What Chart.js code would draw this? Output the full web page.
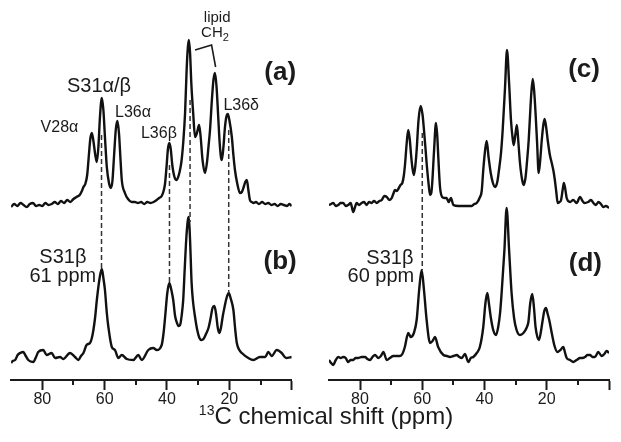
<!DOCTYPE html>
<html>
<head>
<meta charset="utf-8">
<script src="https://cdn.jsdelivr.net/npm/chart.js@4.4.1/dist/chart.umd.min.js"></script>
<style>
  body { margin: 0; background: #fff; }
  #wrap { position: relative; width: 621px; height: 442px; overflow: hidden; }
  #cl { position: absolute; left: 0; top: 0; }
  #cr { position: absolute; left: 318px; top: 0; }
  .xt {
    position: absolute; left: 0; width: 652px; top: 404px; text-align: center;
    font-family: "Liberation Sans", Arial, sans-serif; font-size: 24px; line-height: 24px; color: #1b1b1b;
  }
  .xt sup { font-size: 14px; vertical-align: 9px; line-height: 0; }
</style>
</head>
<body>
<div id="wrap">
  <canvas id="cl" width="310" height="442"></canvas>
  <canvas id="cr" width="303" height="442"></canvas>
  <div class="xt"><sup>13</sup>C chemical shift (ppm)</div>
</div>
<script>
// spectra: [ppm, intensity (a.u.)]
const specA = [[90,-2],[89,1],[88,-1],[87,2],[86,0],[85,-2],[84,1],[83,2],[82,-1],[81,0],[80,-1],[79,2],[78,0],[77,1],[76,3],[75,1],[74,4],[73,2],[72,5],[71,3],[70,6],[69,8],[68,10],[67.3,14],[66.8,18],[66.2,21],[65.6,30],[65.0,52],[64.6,66],[64.1,72],[63.6,64],[63.0,50],[62.5,43],[62.0,58],[61.5,88],[60.9,107],[60.4,95],[59.9,68],[59.3,38],[58.6,22],[58.0,17],[57.5,24],[57.0,48],[56.4,76],[55.9,84],[55.4,72],[54.9,45],[54.5,25],[53.5,12],[52.5,6],[51.3,3],[50.3,3],[49.3,2],[48.3,3],[47.3,1],[46.3,3],[45.3,2],[44.3,3],[43.3,5],[42.5,7],[41.7,9],[41.0,15],[40.6,22],[40.1,40],[39.7,56],[39.25,62],[38.8,56],[38.3,40],[37.6,28],[36.9,25],[36.2,30],[35.7,37],[35.3,45],[34.8,62],[34.2,92],[33.7,135],[33.3,158],[32.95,165],[32.6,152],[32.2,122],[31.6,92],[31.0,68],[30.4,72],[29.7,80],[29.2,68],[28.6,45],[27.8,32],[27.2,42],[26.7,58],[26.2,75],[25.6,105],[25.1,125],[24.6,132],[24.1,118],[23.6,90],[23.1,62],[22.7,48],[22.4,45],[21.9,58],[21.4,78],[20.9,89],[20.5,91],[20.0,85],[19.2,68],[18.7,50],[18.2,35],[17.5,22],[16.6,12],[16.0,13],[15.4,18],[14.9,23],[14.4,25],[13.9,15],[13.4,5],[12.8,3],[12.2,2],[11.5,3],[10.5,1],[9.5,3],[8.5,1],[7.5,2],[6.5,0],[5.5,1],[4.5,-1],[3.5,1],[2.5,0],[1.5,-1],[0.7,1],[0,-1]];

const specB = [[90,-5],[89.5,-3],[88.7,-2],[87.9,3],[87.1,5],[86.1,6],[85.3,2],[84.5,-2],[82.9,-4],[82,1],[81.3,6],[79.7,8],[78.6,3],[77,5],[75.9,0],[74.3,1],[73.3,-1],[71.1,5],[69.5,1],[68.4,-2],[67.6,2],[66.8,5],[65.8,13],[64.7,15],[64.1,20],[63.6,28],[63.0,42],[62.5,58],[61.5,82],[60.9,89],[60.4,80],[59.9,68],[59.3,45],[58.8,31],[57.7,11],[56.7,8],[55.6,0],[54.5,3],[52.9,-1],[50.8,-2],[49.2,3],[48.1,-2],[46,8],[44.4,10],[43.3,8],[41.7,13],[41.1,25],[40.6,41],[39.9,65],[39.25,75],[38.6,68],[38.0,58],[37.4,42],[36.9,36],[36.3,32],[35.8,33],[35.2,45],[34.8,58],[34.3,90],[33.8,120],[33.3,138],[33.0,141],[32.6,118],[32.1,75],[31.6,55],[31.0,41],[30.3,28],[29.6,20],[28.9,18],[28.3,19],[27.5,24],[26.7,30],[26,40],[25.4,50],[24.8,52],[24.3,45],[23.7,30],[23.2,25],[22.7,30],[22.1,42],[21.6,50],[20.9,60],[20.2,65],[19.6,60],[18.7,48],[18.1,28],[17.6,15],[16.8,8],[16,5],[13.9,0],[12.3,-2],[10.2,1],[8.5,1],[7.5,6],[6.4,2],[4.8,8],[3.2,5],[1.8,0],[0,1]];

const specC = [[90,0],[89.3,1],[88.6,2],[87.8,-1],[87,0],[86.2,2],[85.4,2],[84.6,-1],[83.8,0],[83,2],[82.2,-7],[81.6,-2],[81.1,2],[80.3,0],[79.5,2],[78.7,3],[77.9,0],[77.1,3],[76.3,2],[75.5,4],[74.6,2],[73.8,4],[73,5],[72.2,9],[71.4,8],[70.6,5],[69.8,7],[69.2,12],[68.8,15],[68.2,14],[67.7,16],[67,20],[66.4,22],[65.9,30],[65.5,42],[65.0,62],[64.5,75],[64.0,65],[63.6,50],[63.2,38],[62.7,30],[62.2,40],[61.8,55],[61.2,85],[60.5,99],[59.9,90],[59.45,75],[59.0,58],[58.6,42],[58.0,22],[57.5,10],[57.1,12],[56.8,22],[56.2,55],[55.6,82],[55.2,70],[54.85,48],[54.3,18],[53.6,8],[52.9,7],[52.2,7],[51.5,3],[50.8,7],[50,0],[48.4,-1],[46.3,-1],[44.1,-1],[43.3,1],[42.5,2],[41.45,8],[40.9,14],[40.4,35],[39.8,55],[39.3,64],[38.7,48],[38.0,32],[37.3,22],[36.6,18],[35.9,23],[35.35,35],[34.7,52],[34.16,75],[33.4,118],[32.78,155],[32.1,122],[31.5,85],[30.9,65],[30.6,60],[30.1,70],[29.6,80],[29.1,62],[28.6,42],[27.9,25],[27.4,20],[26.8,28],[26.3,45],[25.8,65],[25.4,88],[25.0,110],[24.5,126],[24.0,112],[23.6,92],[23.1,62],[22.6,32],[22.1,45],[21.6,65],[21.1,80],[20.7,86],[20.2,78],[19.7,65],[19.0,50],[18.4,42],[17.9,35],[17.4,25],[16.9,12],[16.5,2],[15.9,3],[15.4,5],[14.9,15],[14.5,22],[14.0,15],[13.6,7],[12.5,3],[11.5,5],[10.4,2],[9.3,8],[8.5,4],[7.9,2],[6.7,3],[5.8,5],[5,2],[4.2,0],[3.4,3],[2.6,1],[1.8,-2],[1,-1],[0,-3]];

const specD = [[90,-2],[89.3,-5],[88.6,-7],[87.8,-2],[87,1],[86.2,0],[85.4,1],[84.6,0],[83.8,-4],[83,-2],[82.2,-2],[81.4,0],[80.6,0],[79.5,1],[78.4,1],[77.6,-1],[76.8,-2],[76,1],[75.2,3],[74.1,0],[73.3,2],[72.5,6],[71.4,-2],[70.4,0],[69.3,2],[68.2,2],[67.2,2],[66.4,4],[65.6,11],[64.5,25],[63.7,21],[62.7,25],[61.8,38],[61.0,68],[60.2,88],[59.45,68],[58.6,38],[57.5,15],[56.7,17],[55.9,21],[54.9,11],[53.2,3],[52.1,2],[51.1,1],[50,2],[48.9,3],[48.1,1],[47.3,0],[46.3,4],[45.2,-4],[44.4,0],[43.6,1],[42.5,5],[41.5,11],[40.4,31],[39.7,55],[39.1,65],[38.6,55],[38.0,41],[37.2,28],[36.3,23],[35.6,31],[35.0,45],[34.5,65],[33.6,108],[32.9,150],[32.1,108],[31.3,65],[30.5,40],[29.7,28],[28.6,23],[27.5,25],[26.5,30],[25.9,36],[25.3,55],[24.65,64],[24.1,50],[23.6,31],[22.5,18],[21.9,26],[21.3,38],[20.8,47],[20.25,50],[19.7,44],[19.2,38],[18.4,25],[17.5,12],[16.6,6],[15.6,8],[14.7,11],[14.1,5],[13.6,0],[12.5,-2],[11.5,-4],[10.4,-2],[9.3,0],[8.5,0],[7.7,1],[6.9,3],[6.1,3],[5.3,1],[4.5,1],[3.45,6],[2.35,2],[1.5,4],[0.75,7],[0,5]];

const tickValues = [0, 10, 20, 30, 40, 50, 60, 70, 80, 90];
const labelledTicks = [20, 40, 60, 80];
const minorTicks = [10, 30, 50, 70];

// dashed guides: ppm, start on top trace, end on bottom trace
const leftGuides = [{ppm: 61.0, top: 70, bot: 90}, {ppm: 39.2, top: 40, bot: 75}, {ppm: 32.6, top: 105, bot: 136}, {ppm: 20.2, top: 75, bot: 65}];
const rightGuides = [{ppm: 60.0, top: 72, bot: 88}];

const leftLabels = [
  {t: 'V28α', ppm: 74.5, v: 77, ax: 'yTop', size: 16},
  {t: 'S31α/β', ppm: 61.8, v: 119, ax: 'yTop', size: 20},
  {t: 'L36α', ppm: 50.9, v: 92, ax: 'yTop', size: 16},
  {t: 'L36β', ppm: 42.6, v: 71, ax: 'yTop', size: 16},
  {t: 'L36δ', ppm: 16.2, v: 99, ax: 'yTop', size: 16},
  {t: 'lipid', ppm: 23.9, v: 187, ax: 'yTop', size: 15},
  {t: 'CH', sub: '2', ppm: 24.6, v: 172, ax: 'yTop', size: 15},
  {t: '(a)', ppm: 3.7, v: 132, ax: 'yTop', size: 26, bold: true},
  {t: '(b)', ppm: 3.7, v: 96, ax: 'yBot', size: 26, bold: true},
  {t: 'S31β', ppm: 73.4, v: 101, ax: 'yBot', size: 20},
  {t: '61 ppm', ppm: 73.4, v: 82, ax: 'yBot', size: 20}
];
const rightLabels = [
  {t: '(c)', ppm: 8.0, v: 135, ax: 'yTop', size: 26, bold: true},
  {t: '(d)', ppm: 7.6, v: 94, ax: 'yBot', size: 26, bold: true},
  {t: 'S31β', ppm: 70.4, v: 100, ax: 'yBot', size: 20},
  {t: '60 ppm', ppm: 73.3, v: 82, ax: 'yBot', size: 20}
];
const lipidBracket = [[31.0, 155], [25.7, 160], [24.4, 138]];

const FONT = '"Liberation Sans", Arial, sans-serif';
const INK = '#1b1b1b';

const marksPlugin = {
  id: 'marks',
  afterDatasetsDraw(chart, args, opts) {
    const {ctx, scales} = chart;
    const x = scales.x;
    ctx.save();
    // minor ticks, shorter than the labelled ones
    ctx.strokeStyle = INK;
    ctx.lineWidth = 2;
    minorTicks.forEach(v => {
      const px = Math.round(x.getPixelForValue(v));
      ctx.beginPath();
      ctx.moveTo(px, x.top);
      ctx.lineTo(px, x.top + 5);
      ctx.stroke();
    });
    // dashed guide lines
    ctx.setLineDash([5, 3]);
    ctx.lineWidth = 1.5;
    ctx.strokeStyle = '#333';
    (opts.guides || []).forEach(g => {
      const px = x.getPixelForValue(g.ppm);
      ctx.beginPath();
      ctx.moveTo(px, scales.yTop.getPixelForValue(g.top));
      ctx.lineTo(px, scales.yBot.getPixelForValue(g.bot));
      ctx.stroke();
    });
    ctx.setLineDash([]);
    if (opts.bracket) {
      ctx.lineWidth = 1.6;
      ctx.strokeStyle = INK;
      ctx.beginPath();
      opts.bracket.forEach(([p, v], i) => {
        const px = x.getPixelForValue(p), py = scales.yTop.getPixelForValue(v);
        if (i === 0) ctx.moveTo(px, py); else ctx.lineTo(px, py);
      });
      ctx.stroke();
    }
    // text labels
    ctx.fillStyle = INK;
    ctx.textBaseline = 'middle';
    (opts.labels || []).forEach(l => {
      const px = x.getPixelForValue(l.ppm);
      const py = scales[l.ax].getPixelForValue(l.v);
      const f = (l.bold ? 'bold ' : '') + l.size + 'px ' + FONT;
      ctx.font = f;
      if (l.sub) {
        const w1 = ctx.measureText(l.t).width;
        ctx.font = Math.round(l.size * 0.7) + 'px ' + FONT;
        const w2 = ctx.measureText(l.sub).width;
        const x0 = px - (w1 + w2) / 2;
        ctx.textAlign = 'left';
        ctx.font = f;
        ctx.fillText(l.t, x0, py);
        ctx.font = Math.round(l.size * 0.7) + 'px ' + FONT;
        ctx.fillText(l.sub, x0 + w1, py + l.size * 0.3);
      } else {
        ctx.textAlign = 'center';
        ctx.fillText(l.t, px, py);
      }
    });
    ctx.restore();
  }
};

function makePanel(canvasId, topSpec, botSpec, padLeft, padRight, marks) {
  const line = (spec, axis) => ({
    data: spec.map(([p, v]) => ({x: p, y: v})),
    yAxisID: axis,
    borderColor: '#111',
    borderWidth: 2.4,
    pointRadius: 0,
    fill: false,
    cubicInterpolationMode: 'monotone'
  });
  return new Chart(document.getElementById(canvasId), {
    type: 'line',
    data: {datasets: [line(topSpec, 'yTop'), line(botSpec, 'yBot')]},
    options: {
      responsive: false,
      animation: false,
      layout: {padding: {left: padLeft, right: padRight, top: 0, bottom: 32.8}},
      plugins: {legend: {display: false}, tooltip: {enabled: false}, marks: marks},
      scales: {
        x: {
          type: 'linear', reverse: true, min: 0, max: 90,
          afterBuildTicks: s => { s.ticks = tickValues.map(v => ({value: v})); },
          ticks: {
            autoSkip: false, maxRotation: 0, padding: 0, color: INK,
            font: {size: 16, family: FONT},
            callback: v => labelledTicks.includes(v) ? String(v) : ''
          },
          grid: {
            display: true, drawOnChartArea: false, drawTicks: true, tickLength: 10, tickWidth: 2,
            tickColor: c => (c.tick && c.tick.value % 20 === 0) ? INK : 'rgba(0,0,0,0)'
          },
          border: {display: true, color: INK, width: 2}
        },
        yTop: {display: false, min: -175, max: 205},
        yBot: {display: false, min: -22, max: 358}
      }
    },
    plugins: [marksPlugin]
  });
}

makePanel('cl', specA, specB, 11.1, 18.3, {labels: leftLabels, guides: leftGuides, bracket: lipidBracket});
makePanel('cr', specC, specD, 10.9, 12, {labels: rightLabels, guides: rightGuides});
</script>
</body>
</html>
